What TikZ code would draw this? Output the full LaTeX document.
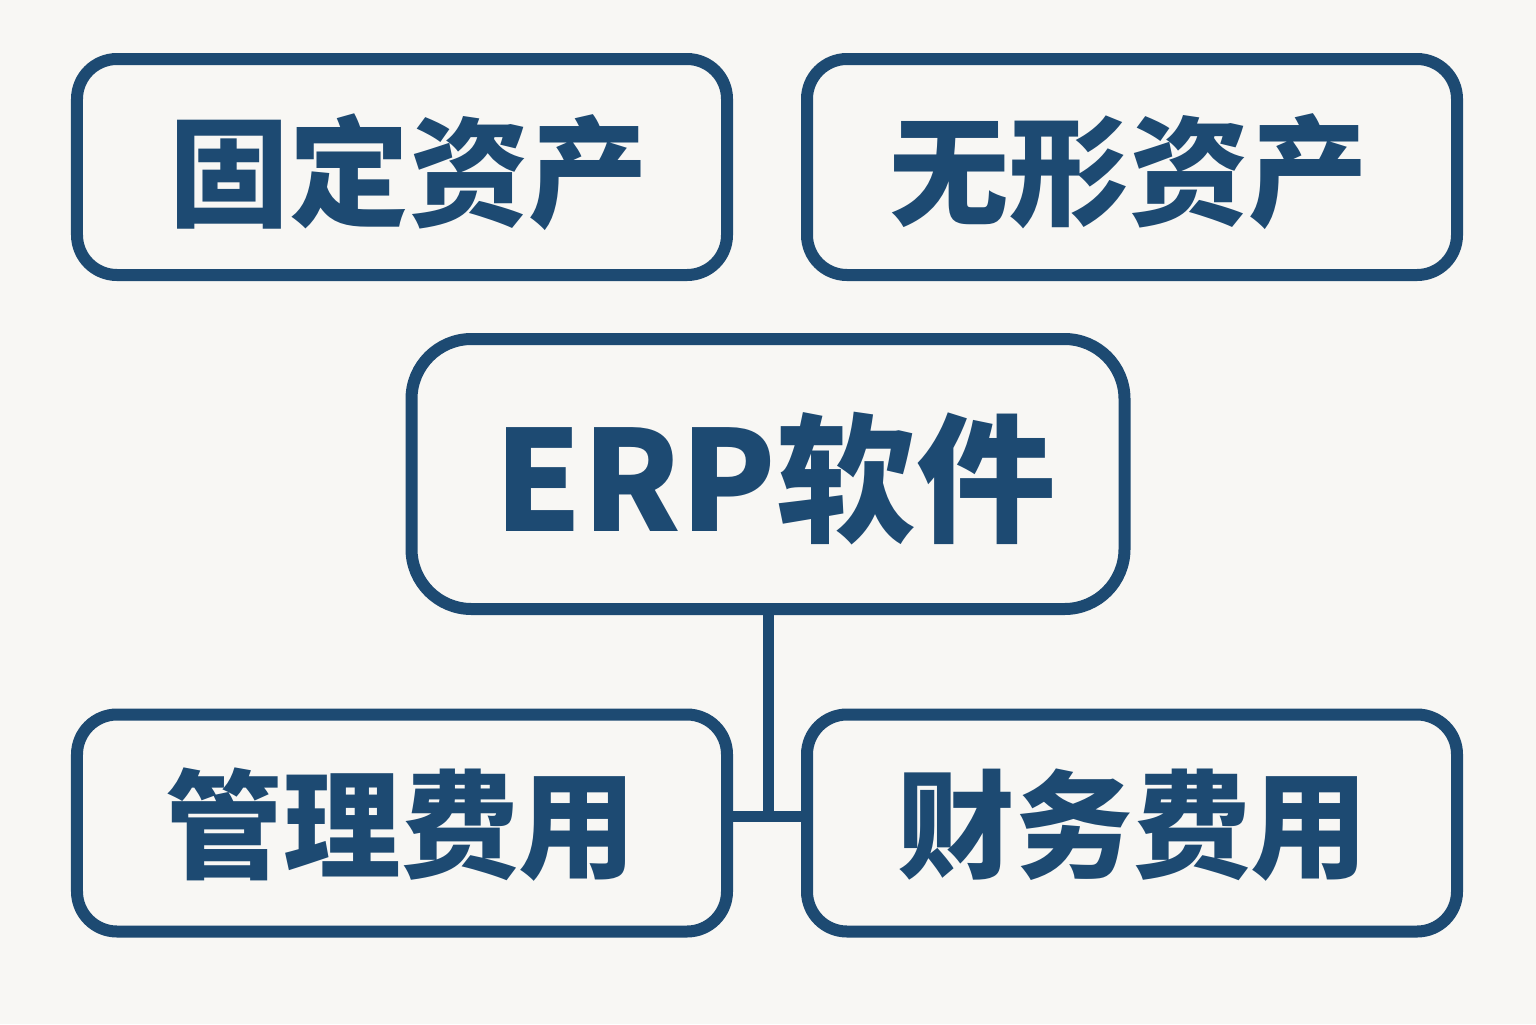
\documentclass[tikz,border=0pt]{standalone}
\usepackage{fontspec}
\newfontfamily\cjk{Noto Sans CJK SC}[BoldFont={Noto Sans CJK SC Black}]
\definecolor{navy}{HTML}{1D4A72}
\definecolor{bg}{HTML}{F8F7F4}
\begin{document}
\begin{tikzpicture}[x=1bp,y=-1bp,
  box/.style={draw=navy,line width=12bp,rounded corners=40bp,inner sep=0pt},
  lbl/.style={text=navy,inner sep=0pt,font=\cjk\bfseries\fontsize{120}{120}\selectfont},
  link/.style={draw=navy,line width=11bp}]
\fill[bg] (0,0) rectangle (1536,1024);
\useasboundingbox (0,0) rectangle (1536,1024);
\node[box,minimum width=650bp,minimum height=216bp] (fa) at (402,167) {};
\node[box,minimum width=650bp,minimum height=216bp] (ia) at (1132,167) {};
\node[box,rounded corners=60bp,minimum width=713bp,minimum height=270bp] (erp) at (768,474) {};
\node[box,minimum width=650bp,minimum height=217bp] (ma) at (402,823) {};
\node[box,minimum width=650bp,minimum height=217bp] (fi) at (1132,823) {};
\node[lbl] (tfa) at (409,172) {固定资产};
\node[lbl] (tia) at (1129,172) {无形资产};
\node[lbl,font=\cjk\bfseries\fontsize{140}{140}\selectfont] (terp) at (775,479) {ERP软件};
\node[lbl,font=\cjk\bfseries\fontsize{118}{118}\selectfont] (tma) at (401,825) {管理费用};
\node[lbl,font=\cjk\bfseries\fontsize{118}{118}\selectfont] (tfi) at (1133,825) {财务费用};
\coordinate (j) at (768,816);
\draw[link] (erp.south) -- (j);
\draw[link] (ma.east |- j) -- (fi.west |- j);
\end{tikzpicture}
\end{document}
